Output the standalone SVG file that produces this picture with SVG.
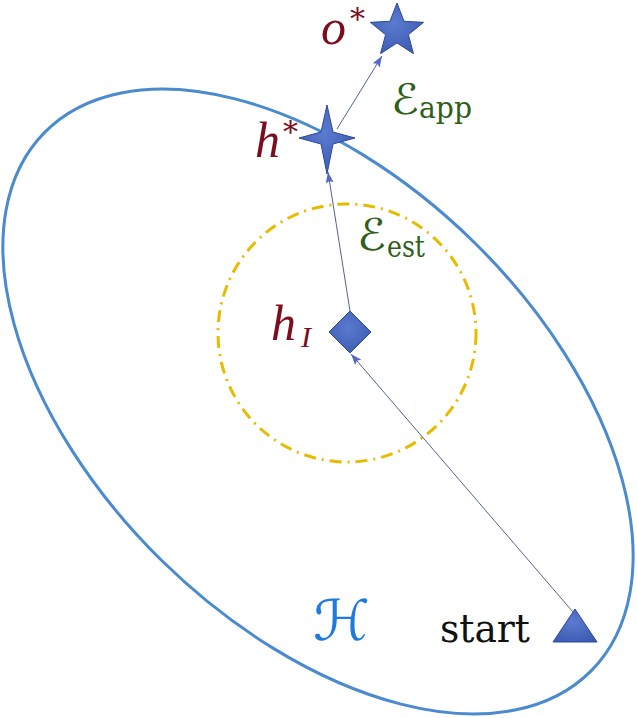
<svg xmlns="http://www.w3.org/2000/svg" width="637" height="718" viewBox="0 0 637 718">
<style>
.math{font-family:'Liberation Serif','DejaVu Serif',serif;font-style:italic;fill:#7d0d1e}
.star{font-family:'DejaVu Serif',serif;fill:#7d0d1e}
.cal{font-family:'DejaVu Serif','DejaVu Sans',serif;fill:#2f5f1a}
.sub{font-family:'DejaVu Serif',serif;fill:#2f5f1a}
.plain{font-family:'DejaVu Serif',serif;fill:#111111}
.conn{stroke:#56628f;stroke-width:1;fill:none}
.shape{fill:url(#blueGrad);stroke:#2e4a98;stroke-width:1}
</style>
<defs>
<radialGradient id="blueGrad" cx="0.45" cy="0.4" r="0.7">
<stop offset="0" stop-color="#5a7bd0"/>
<stop offset="1" stop-color="#3a59b0"/>
</radialGradient>
<marker id="arr" markerWidth="12" markerHeight="9" refX="11" refY="4" orient="auto" markerUnits="userSpaceOnUse">
<path d="M0,0 L11,4 L0,8 L2,4 z" fill="#5468c4"/>
</marker>
</defs>
<rect width="637" height="718" fill="#ffffff"/>
<g id="region-H">
<ellipse cx="318" cy="401.5" rx="383.6" ry="223" transform="rotate(44.5 318 401.5)" fill="#ffffff" stroke="#4a8bd0" stroke-width="3"/>
<text x="313" y="640" font-family="DejaVu Serif,DejaVu Sans,serif" font-size="56" fill="#1f7ae0" textLength="57" lengthAdjust="spacingAndGlyphs">ℋ</text>
</g>
<g id="est-circle">
<circle cx="347" cy="333" r="129" fill="none" stroke="#e6bb00" stroke-width="3" stroke-dasharray="12 6 2 6"/>
<text class="cal" x="357" y="250" font-size="44" textLength="29" lengthAdjust="spacingAndGlyphs">ℰ</text>
<text class="sub" x="387" y="257" font-size="29" textLength="38" lengthAdjust="spacingAndGlyphs">est</text>
</g>
<g id="node-start">
<polygon class="shape" points="575,609 553,642 597,642"/>
<text class="plain" x="440" y="642" font-size="39" textLength="90" lengthAdjust="spacingAndGlyphs">start</text>
</g>
<g id="node-hI">
<polygon class="shape" points="350,311 371,332 350,353 329,332"/>
<text class="math" x="271" y="340" font-size="50">h</text>
<text class="math" x="301" y="347" font-size="30">I</text>
</g>
<g id="node-hstar">
<polygon class="shape" points="327,105 333,132 355,138 333,144 327,174 321,144 299,138 321,132"/>
<text class="math" x="255" y="157" font-size="50">h</text>
<text class="star" x="283" y="142" font-size="30">*</text>
</g>
<g id="node-ostar">
<polygon class="shape" points="397,3 404.05,21.29 423.6,22.35 408.41,34.71 413.46,53.65 397,43 380.54,53.65 385.59,34.71 370.37,22.35 389.95,21.29"/>
<text class="math" x="321" y="44" font-size="50">o</text>
<text class="star" x="350" y="29" font-size="30">*</text>
<text class="cal" x="391" y="114" font-size="42" textLength="28" lengthAdjust="spacingAndGlyphs">ℰ</text>
<text class="sub" x="419" y="118" font-size="29" textLength="53" lengthAdjust="spacingAndGlyphs">app</text>
</g>
<g id="connectors">
<line class="conn" x1="573" y1="612" x2="351" y2="354" marker-end="url(#arr)"/>
<line class="conn" x1="350" y1="311" x2="328" y2="172" marker-end="url(#arr)"/>
<line class="conn" x1="337" y1="129" x2="382" y2="56" marker-end="url(#arr)"/>
</g>
</svg>
